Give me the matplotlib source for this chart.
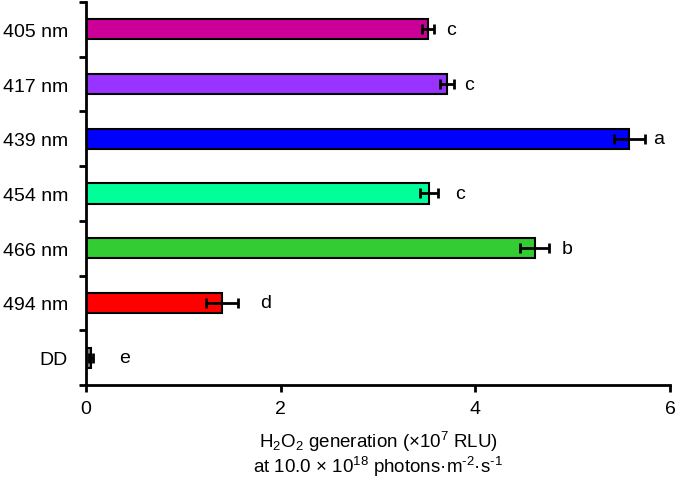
import numpy as np
import matplotlib
matplotlib.use("Agg")
import matplotlib.pyplot as plt
from matplotlib.ticker import FixedLocator

plt.rcParams['font.family'] = ['Liberation Sans', 'DejaVu Sans']
plt.rcParams['mathtext.fontset'] = 'custom'
plt.rcParams['mathtext.rm'] = 'Liberation Sans'
plt.rcParams['mathtext.it'] = 'Liberation Sans:italic'

# data
labels = ["405 nm", "417 nm", "439 nm", "454 nm", "466 nm", "494 nm", "DD"]
values = [3.51, 3.71, 5.58, 3.52, 4.61, 1.40, 0.05]
errors = [0.06, 0.07, 0.16, 0.09, 0.15, 0.165, 0.02]
letters = ["c", "c", "a", "c", "b", "d", "e"]
colors = ["#CC0099", "#9933FF", "#0000FF", "#00FF99", "#33CC33", "#FF0000", "#808080"]
letter_x = [3.75, 3.93, 5.88, 3.84, 4.94, 1.84, 0.40]

fig = plt.figure(figsize=(6.77, 4.85), dpi=100)
ax = fig.add_axes([0.127, 0.204, 0.863, 0.790])

y = np.arange(len(labels))
ax.barh(y, values, height=0.37, color=colors, edgecolor="black", linewidth=1.5, zorder=2)
ax.errorbar(values, y, xerr=errors, fmt="none", ecolor="black", elinewidth=2,
            capsize=3.5, capthick=2, zorder=3)
for yi, lx, t in zip(y, letter_x, letters):
    ax.text(lx, yi, t, ha="center", va="center", fontsize=14)

ax.set_ylim(len(labels) - 0.5, -0.5)
ax.set_xlim(0, 6)
ax.set_xticks([0, 2, 4, 6])
ax.set_yticks(y)
ax.set_yticklabels(labels)
ax.yaxis.set_minor_locator(FixedLocator(np.arange(-0.5, len(labels), 1.0)))
ax.tick_params(axis="y", which="major", length=0, pad=13, labelsize=14)
ax.tick_params(axis="y", which="minor", length=5, width=2, direction="out")
ax.tick_params(axis="x", which="major", length=5, width=2, direction="out", labelsize=14, pad=6)

for s in ["top", "right"]:
    ax.spines[s].set_visible(False)
for s in ["left", "bottom"]:
    ax.spines[s].set_linewidth(2)

ax.set_xlabel("H$_2$O$_2$ generation (×10$^7$ RLU)\n"
              "at 10.0 × 10$^{18}$ photons·m$^{‐2}$·s$^{‐1}$",
              fontsize=13.5, labelpad=8, linespacing=1.1)

fig.savefig("out.png", dpi=100)
